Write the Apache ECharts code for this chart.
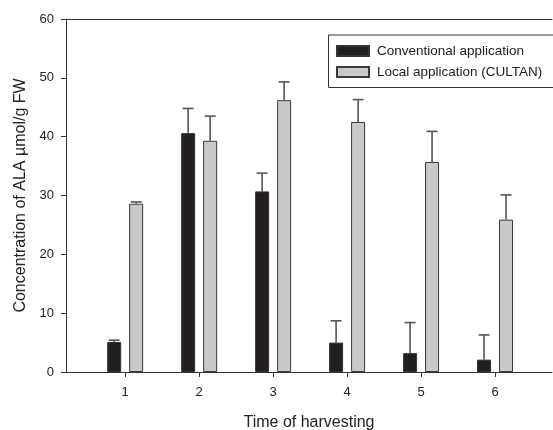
<!DOCTYPE html>
<html><head><meta charset="utf-8">
<script src="https://cdn.jsdelivr.net/npm/echarts@6/dist/echarts.min.js"></script>
<style>html,body{margin:0;padding:0;background:#fff}#c{width:553px;height:430px}</style>
</head><body><div id="c"></div>
<script>
const harvests = [1, 2, 3, 4, 5, 6];
const conventional = [5.1, 40.6, 30.7, 5.0, 3.2, 2.1];
const conventionalErr = [0.3, 4.2, 3.1, 3.7, 5.2, 4.2];
const cultan = [28.6, 39.3, 46.2, 42.5, 35.7, 25.9];
const cultanErr = [0.3, 4.2, 3.1, 3.8, 5.2, 4.2];
const yTicks = [0, 10, 20, 30, 40, 50, 60];
const seriesNames = ['Conventional application', 'Local application (CULTAN)'];

const font = 'Liberation Sans, Arial, sans-serif';
const chart = echarts.init(document.getElementById('c'), null, {renderer: 'canvas'});

function errSeries(vals, errs, offset) {
  return {
    type: 'custom',
    silent: true,
    z: 1,
    data: harvests.map((h, i) => [h, vals[i], vals[i] + errs[i]]),
    renderItem: function (params, api) {
      const lo = api.coord([api.value(0), api.value(1)]);
      const hi = api.coord([api.value(0), api.value(2)]);
      const x = lo[0] + offset;
      const st = {stroke: '#555', lineWidth: 1.6};
      return {
        type: 'group',
        children: [
          {type: 'line', shape: {x1: x, y1: lo[1], x2: x, y2: hi[1]}, style: st},
          {type: 'line', shape: {x1: x - 5.5, y1: hi[1], x2: x + 5.5, y2: hi[1]}, style: st}
        ]
      };
    }
  };
}

chart.setOption({
  animation: false,
  backgroundColor: '#fff',
  grid: {left: 66, right: 1, top: 19, bottom: 58, outerBoundsMode: 'none', containLabel: false},
  legend: {
    data: seriesNames,
    orient: 'vertical',
    left: 336, top: 44,
    padding: 0,
    icon: 'rect',
    itemWidth: 32, itemHeight: 10, itemGap: 7,
    textStyle: {fontFamily: font, fontSize: 13.5, color: '#222', lineHeight: 14, padding: [0, 0, 0, 3]}
  },
  graphic: [{
    type: 'rect', left: 326, top: 32.5,
    shape: {width: 226, height: 52.5},
    style: {fill: 'none', stroke: '#333', lineWidth: 1}
  }],
  xAxis: [{
    type: 'value', min: 0.2, max: 6.77,
    name: 'Time of harvesting', nameLocation: 'middle', nameGap: 43,
    nameTextStyle: {fontFamily: font, fontSize: 16, color: '#222'},
    splitLine: {show: false},
    axisLine: {lineStyle: {color: '#333', width: 1}},
    axisTick: {show: true, length: 5, customValues: harvests, lineStyle: {color: '#333'}},
    axisLabel: {customValues: harvests, margin: 14, fontFamily: font, fontSize: 13, color: '#222'}
  }, {
    type: 'value', position: 'top', min: 0.2, max: 6.77,
    axisLine: {show: true, onZero: false, lineStyle: {color: '#333', width: 1}},
    axisTick: {show: false}, axisLabel: {show: false}, splitLine: {show: false}
  }],
  yAxis: {
    type: 'value', min: 0, max: 60, interval: 10,
    name: 'Concentration of ALA µmol/g FW', nameLocation: 'middle', nameGap: 36,
    nameTextStyle: {fontFamily: font, fontSize: 16, color: '#222'},
    splitLine: {show: false},
    axisLine: {show: true, lineStyle: {color: '#333', width: 1}},
    axisTick: {show: true, length: 5, lineStyle: {color: '#333'}},
    axisLabel: {margin: 12, fontFamily: font, fontSize: 13, color: '#222',
      formatter: v => yTicks.includes(v) ? String(v) : ''}
  },
  series: [
    {
      name: seriesNames[0], type: 'bar', barWidth: 14, barGap: '57%', z: 2,
      data: harvests.map((h, i) => [h, conventional[i]]),
      itemStyle: {color: '#231f20', borderColor: '#333', borderWidth: 1}
    },
    {
      name: seriesNames[1], type: 'bar', barWidth: 14, barGap: '57%', z: 2,
      data: harvests.map((h, i) => [h, cultan[i]]),
      itemStyle: {color: '#c8c9cb', borderColor: '#3a3a3a', borderWidth: 1}
    },
    errSeries(conventional, conventionalErr, -11),
    errSeries(cultan, cultanErr, 11)
  ]
});
</script></body></html>
